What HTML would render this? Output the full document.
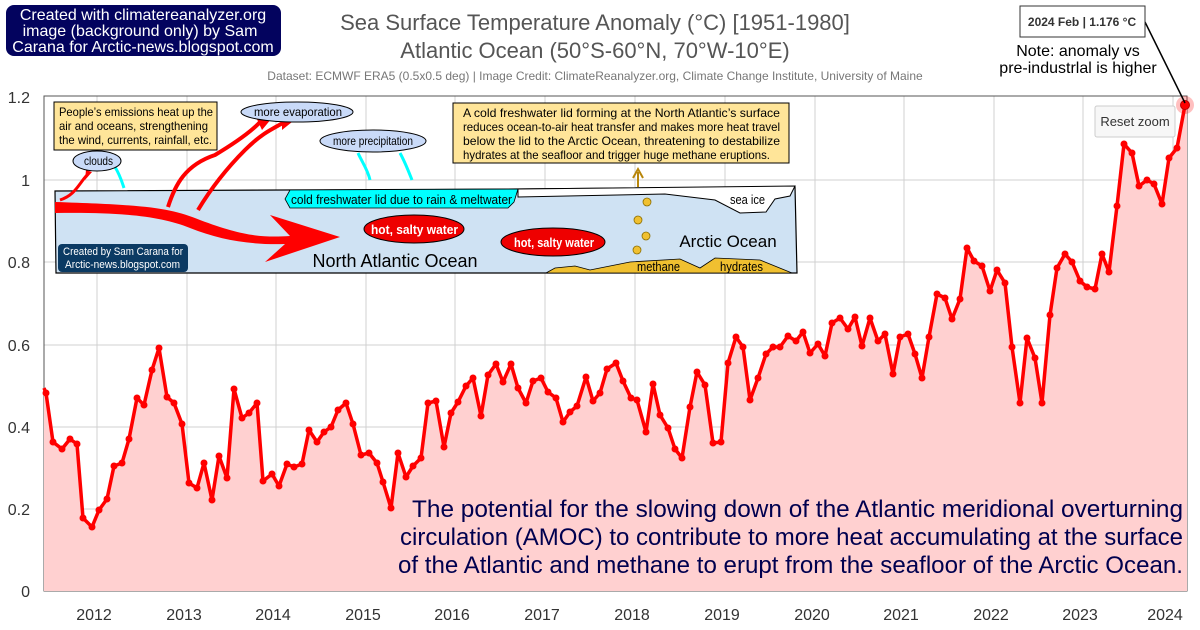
<!DOCTYPE html>
<html><head><meta charset="utf-8"><style>
html,body{margin:0;padding:0;background:#fff;}
svg{display:block;font-family:"Liberation Sans",sans-serif;}
</style></head><body>
<svg width="1200" height="630" viewBox="0 0 1200 630" xmlns="http://www.w3.org/2000/svg">
<rect width="1200" height="630" fill="#fff"/>
<g stroke="#d0d0d0" stroke-width="1">
<line x1="44" y1="509" x2="1187" y2="509"/><line x1="44" y1="427" x2="1187" y2="427"/>
<line x1="44" y1="345" x2="1187" y2="345"/><line x1="44" y1="262" x2="1187" y2="262"/>
<line x1="44" y1="180" x2="1187" y2="180"/>
<line x1="97" y1="96" x2="97" y2="591"/><line x1="187" y1="96" x2="187" y2="591"/><line x1="276" y1="96" x2="276" y2="591"/>
<line x1="366" y1="96" x2="366" y2="591"/><line x1="455" y1="96" x2="455" y2="591"/><line x1="545" y1="96" x2="545" y2="591"/>
<line x1="635" y1="96" x2="635" y2="591"/><line x1="725" y1="96" x2="725" y2="591"/><line x1="815" y1="96" x2="815" y2="591"/>
<line x1="904" y1="96" x2="904" y2="591"/><line x1="994" y1="96" x2="994" y2="591"/><line x1="1083" y1="96" x2="1083" y2="591"/>
<line x1="1173" y1="96" x2="1173" y2="591"/>
</g>
<rect x="44" y="96" width="1143" height="495" fill="none" stroke="#555" stroke-width="1"/>
<g font-size="16" fill="#333" text-anchor="end">
<text x="30" y="597">0</text><text x="30" y="515">0.2</text><text x="30" y="433">0.4</text>
<text x="30" y="351">0.6</text><text x="30" y="268">0.8</text><text x="30" y="186">1</text><text x="30" y="103">1.2</text>
</g>
<g font-size="16" fill="#333" text-anchor="middle">
<text x="94" y="620">2012</text><text x="184" y="620">2013</text><text x="273" y="620">2014</text><text x="363" y="620">2015</text>
<text x="452" y="620">2016</text><text x="542" y="620">2017</text><text x="632" y="620">2018</text><text x="722" y="620">2019</text>
<text x="812" y="620">2020</text><text x="901" y="620">2021</text><text x="991" y="620">2022</text><text x="1080" y="620">2023</text><text x="1165" y="620">2024</text>
</g>
<g id="s">
<polygon fill="#ffd0d0" points="44,591 44,388 46,393 53,442 62,449 70,439 77,444 83,518 92,527 99,510 107,499 114,466 122,463 129,439 137,398 144,405 152,370 159,348 167,397 174,403 182,424 189,483 197,488 204,463 212,500 219,456 227,478 234,389 242,418 249,413 257,403 263,481 272,474 279,486 287,464 294,467 302,464 309,430 317,442 324,432 331,427 338,410 346,403 353,424 361,455 369,453 377,463 383,482 391,508 398,453 406,477 413,466 421,458 428,403 436,401 444,447 451,413 458,402 466,386 473,378 481,416 488,375 496,364 503,382 511,364 518,388 526,403 533,381 541,378 548,392 556,398 563,422 570,412 577,406 586,377 593,401 600,393 607,369 616,363 623,381 631,398 637,400 646,432 653,384 660,415 668,428 675,449 682,458 690,407 697,372 705,385 713,443 721,442 728,363 736,337 743,347 750,400 758,378 766,354 773,347 780,347 788,336 796,341 803,332 810,353 818,344 825,356 832,323 840,318 848,329 855,317 862,346 870,318 878,341 885,334 893,374 900,337 908,334 915,354 922,378 929,337 937,294 945,298 952,319 960,299 967,248 974,261 982,266 990,291 997,270 1005,283 1012,347 1020,403 1027,338 1035,358 1042,403 1050,315 1057,268 1065,254 1072,262 1080,281 1087,287 1095,289 1102,254 1109,272 1117,206 1124,144 1132,153 1139,186 1147,180 1154,184 1162,204 1169,158 1177,148 1185,105 1187,105 1187,591"/>
<polyline fill="none" stroke="#ff0000" stroke-width="3.5" stroke-linejoin="round" points="44,388 46,393 53,442 62,449 70,439 77,444 83,518 92,527 99,510 107,499 114,466 122,463 129,439 137,398 144,405 152,370 159,348 167,397 174,403 182,424 189,483 197,488 204,463 212,500 219,456 227,478 234,389 242,418 249,413 257,403 263,481 272,474 279,486 287,464 294,467 302,464 309,430 317,442 324,432 331,427 338,410 346,403 353,424 361,455 369,453 377,463 383,482 391,508 398,453 406,477 413,466 421,458 428,403 436,401 444,447 451,413 458,402 466,386 473,378 481,416 488,375 496,364 503,382 511,364 518,388 526,403 533,381 541,378 548,392 556,398 563,422 570,412 577,406 586,377 593,401 600,393 607,369 616,363 623,381 631,398 637,400 646,432 653,384 660,415 668,428 675,449 682,458 690,407 697,372 705,385 713,443 721,442 728,363 736,337 743,347 750,400 758,378 766,354 773,347 780,347 788,336 796,341 803,332 810,353 818,344 825,356 832,323 840,318 848,329 855,317 862,346 870,318 878,341 885,334 893,374 900,337 908,334 915,354 922,378 929,337 937,294 945,298 952,319 960,299 967,248 974,261 982,266 990,291 997,270 1005,283 1012,347 1020,403 1027,338 1035,358 1042,403 1050,315 1057,268 1065,254 1072,262 1080,281 1087,287 1095,289 1102,254 1109,272 1117,206 1124,144 1132,153 1139,186 1147,180 1154,184 1162,204 1169,158 1177,148 1185,105"/>
</g>
<g fill="#ff0000" id="dots"></g>
<circle cx="1185" cy="105" r="9" fill="#ff0000" fill-opacity="0.25"/>
<circle cx="1185" cy="105" r="4.5" fill="#ff0000" stroke="#b00" stroke-width="1"/>
<rect x="1095" y="106" width="80" height="31" rx="2" fill="#f7f7f7" stroke="#ccc"/>
<text x="1135" y="126" font-size="13" fill="#333" text-anchor="middle">Reset zoom</text>
<text x="595" y="30" font-size="22" fill="#555" text-anchor="middle">Sea Surface Temperature Anomaly (°C) [1951-1980]</text>
<text x="595" y="58" font-size="22" fill="#555" text-anchor="middle">Atlantic Ocean (50°S-60°N, 70°W-10°E)</text>
<text x="595" y="80" font-size="12" fill="#777" text-anchor="middle">Dataset: ECMWF ERA5 (0.5x0.5 deg) | Image Credit: ClimateReanalyzer.org, Climate Change Institute, University of Maine</text>
<rect x="6" y="5" width="275" height="51" rx="8" fill="#03035e"/>
<g font-size="16" fill="#fff" text-anchor="middle"><text x="143" y="20">Created with climatereanalyzer.org</text><text x="140" y="36">image (background only) by Sam</text><text x="143" y="52">Carana for Arctic-news.blogspot.com</text></g>
<line x1="1145" y1="22" x2="1185" y2="103" stroke="#000" stroke-width="1.5"/>
<rect x="1020" y="6" width="125" height="31" fill="#fff" stroke="#333" stroke-width="1"/>
<text x="1082" y="26" font-size="12" font-weight="bold" fill="#333" text-anchor="middle">2024 Feb | 1.176 °C</text>
<g font-size="16" fill="#000" text-anchor="middle"><text x="1078" y="56">Note: anomaly vs</text><text x="1078" y="73">pre-industrlal is higher</text></g>
<g font-size="24" fill="#00004f">
<text x="412" y="517" textLength="771" lengthAdjust="spacingAndGlyphs">The potential for the slowing down of the Atlantic meridional overturning</text>
<text x="400" y="545" textLength="783" lengthAdjust="spacingAndGlyphs">circulation (AMOC) to contribute to more heat accumulating at the surface</text>
<text x="398" y="573" textLength="785" lengthAdjust="spacingAndGlyphs">of the Atlantic and methane to erupt from the seafloor of the Arctic Ocean.</text>
</g>
<polygon points="55,191 518,189 795,187 797,273 56,273" fill="#cfe2f3" stroke="#000" stroke-width="1.2"/>
<polygon points="518,189 795,186 790,196 775,199 766,212 740,213 715,200 665,194 518,197" fill="#fff" stroke="#000" stroke-width="1"/>
<text x="730" y="204" font-size="13" fill="#000" textLength="35" lengthAdjust="spacingAndGlyphs">sea ice</text>
<polygon points="290,190 518,189 514,202 508,208 290,208 285,199" fill="#00ffff" stroke="#000" stroke-width="0.8"/>
<text x="291" y="204" font-size="13" fill="#000" textLength="221" lengthAdjust="spacingAndGlyphs">cold freshwater lid due to rain &amp; meltwater</text>
<path d="M546,273 L555,268 L575,266 L590,270 L630,262 L680,259 L700,268 L715,258 L760,260 L792,273 Z" fill="#f0c030" stroke="#000" stroke-width="0.8"/>
<text x="637" y="271" font-size="13" fill="#000" textLength="43" lengthAdjust="spacingAndGlyphs">methane</text>
<text x="720" y="271" font-size="13" fill="#000" textLength="43" lengthAdjust="spacingAndGlyphs">hydrates</text>
<g fill="#f0c030" stroke="#8a6d00" stroke-width="0.8"><circle cx="647" cy="202" r="4"/><circle cx="638" cy="220" r="4"/><circle cx="646" cy="236" r="4"/><circle cx="637" cy="250" r="4"/></g>
<text x="728" y="247" font-size="17" fill="#000" text-anchor="middle">Arctic Ocean</text>
<text x="395" y="267" font-size="18" fill="#000" text-anchor="middle">North Atlantic Ocean</text>
<ellipse cx="414" cy="229" rx="50" ry="14" fill="#ee0000" stroke="#000"/>
<text x="371" y="234" font-size="13" font-weight="bold" fill="#fff" textLength="87" lengthAdjust="spacingAndGlyphs">hot, salty water</text>
<ellipse cx="553" cy="242" rx="52" ry="14" fill="#ee0000" stroke="#000"/>
<text x="514" y="247" font-size="13" font-weight="bold" fill="#fff" textLength="80" lengthAdjust="spacingAndGlyphs">hot, salty water</text>
<path d="M55,202 C150,205 170,208 200,220 C240,235 260,238 290,236 L270,215 L340,237 L265,262 L285,244 C250,245 220,240 190,228 C160,216 120,212 55,213 Z" fill="#ff0000"/>
<path d="M168,207 C175,185 185,165 215,155 C240,140 255,128 262,120" fill="none" stroke="#f00" stroke-width="4"/>
<path d="M198,210 C210,190 225,170 245,150 C260,135 270,130 283,123" fill="none" stroke="#f00" stroke-width="4"/>
<path d="M60,200 C75,195 78,185 87,175" fill="none" stroke="#f00" stroke-width="3"/>
<polygon points="255,115 272,118 262,130" fill="#f00"/><polygon points="282,117 292,122 282,130" fill="#f00"/><polygon points="86,170 92,172 85,180" fill="#f00"/>
<g fill="none" stroke="#00ffff" stroke-width="3"><path d="M115,167 C120,175 122,182 124,188"/><path d="M358,153 C362,162 368,170 370,180"/><path d="M400,153 C405,162 408,170 412,180"/></g>
<rect x="58" y="244" width="130" height="28" rx="4" fill="#0b3a63"/>
<g font-size="11" fill="#fff"><text x="63" y="255" textLength="120" lengthAdjust="spacingAndGlyphs">Created by Sam Carana for</text><text x="65" y="268" textLength="115" lengthAdjust="spacingAndGlyphs">Arctic-news.blogspot.com</text></g>
<rect x="54" y="102" width="163" height="48" fill="#ffe599" stroke="#000"/>
<g font-size="12" fill="#000"><text x="59" y="116" textLength="154" lengthAdjust="spacingAndGlyphs">People’s emissions heat up the</text><text x="59" y="130" textLength="149" lengthAdjust="spacingAndGlyphs">air and oceans, strengthening</text><text x="59" y="144" textLength="153" lengthAdjust="spacingAndGlyphs">the wind, currents, rainfall, etc.</text></g>
<ellipse cx="97" cy="161" rx="24" ry="10" fill="#c9daf8" stroke="#000"/>
<text x="84" y="165" font-size="12" textLength="29" lengthAdjust="spacingAndGlyphs">clouds</text>
<ellipse cx="297" cy="112" rx="56" ry="10" fill="#c9daf8" stroke="#000"/>
<text x="254" y="116" font-size="12" textLength="88" lengthAdjust="spacingAndGlyphs">more evaporation</text>
<ellipse cx="373" cy="141" rx="53" ry="11" fill="#c9daf8" stroke="#000"/>
<text x="333" y="145" font-size="12" textLength="80" lengthAdjust="spacingAndGlyphs">more precipitation</text>
<rect x="453" y="103" width="336" height="60" fill="#ffe599" stroke="#000"/>
<g font-size="12" fill="#000"><text x="463" y="117" textLength="317" lengthAdjust="spacingAndGlyphs">A cold freshwater lid forming at the North Atlantic’s surface</text><text x="463" y="131" textLength="317" lengthAdjust="spacingAndGlyphs">reduces ocean-to-air heat transfer and makes more heat travel</text><text x="463" y="145" textLength="317" lengthAdjust="spacingAndGlyphs">below the lid to the Arctic Ocean, threatening to destabilize</text><text x="463" y="159" textLength="307" lengthAdjust="spacingAndGlyphs">hydrates at the seafloor and trigger huge methane eruptions.</text></g>
<path d="M638,187 L638,172 M633,178 L638,169 L643,178" stroke="#b8860b" stroke-width="2" fill="none"/>
</svg>
<script>
(function(){var p=document.querySelector('#s polyline').getAttribute('points').trim().split(/\s+/);var g=document.getElementById('dots');var ns='http://www.w3.org/2000/svg';p.slice(1).forEach(function(s){var a=s.split(',');var c=document.createElementNS(ns,'circle');c.setAttribute('cx',a[0]);c.setAttribute('cy',a[1]);c.setAttribute('r','3.5');g.appendChild(c);});})();
</script>
</body></html>
